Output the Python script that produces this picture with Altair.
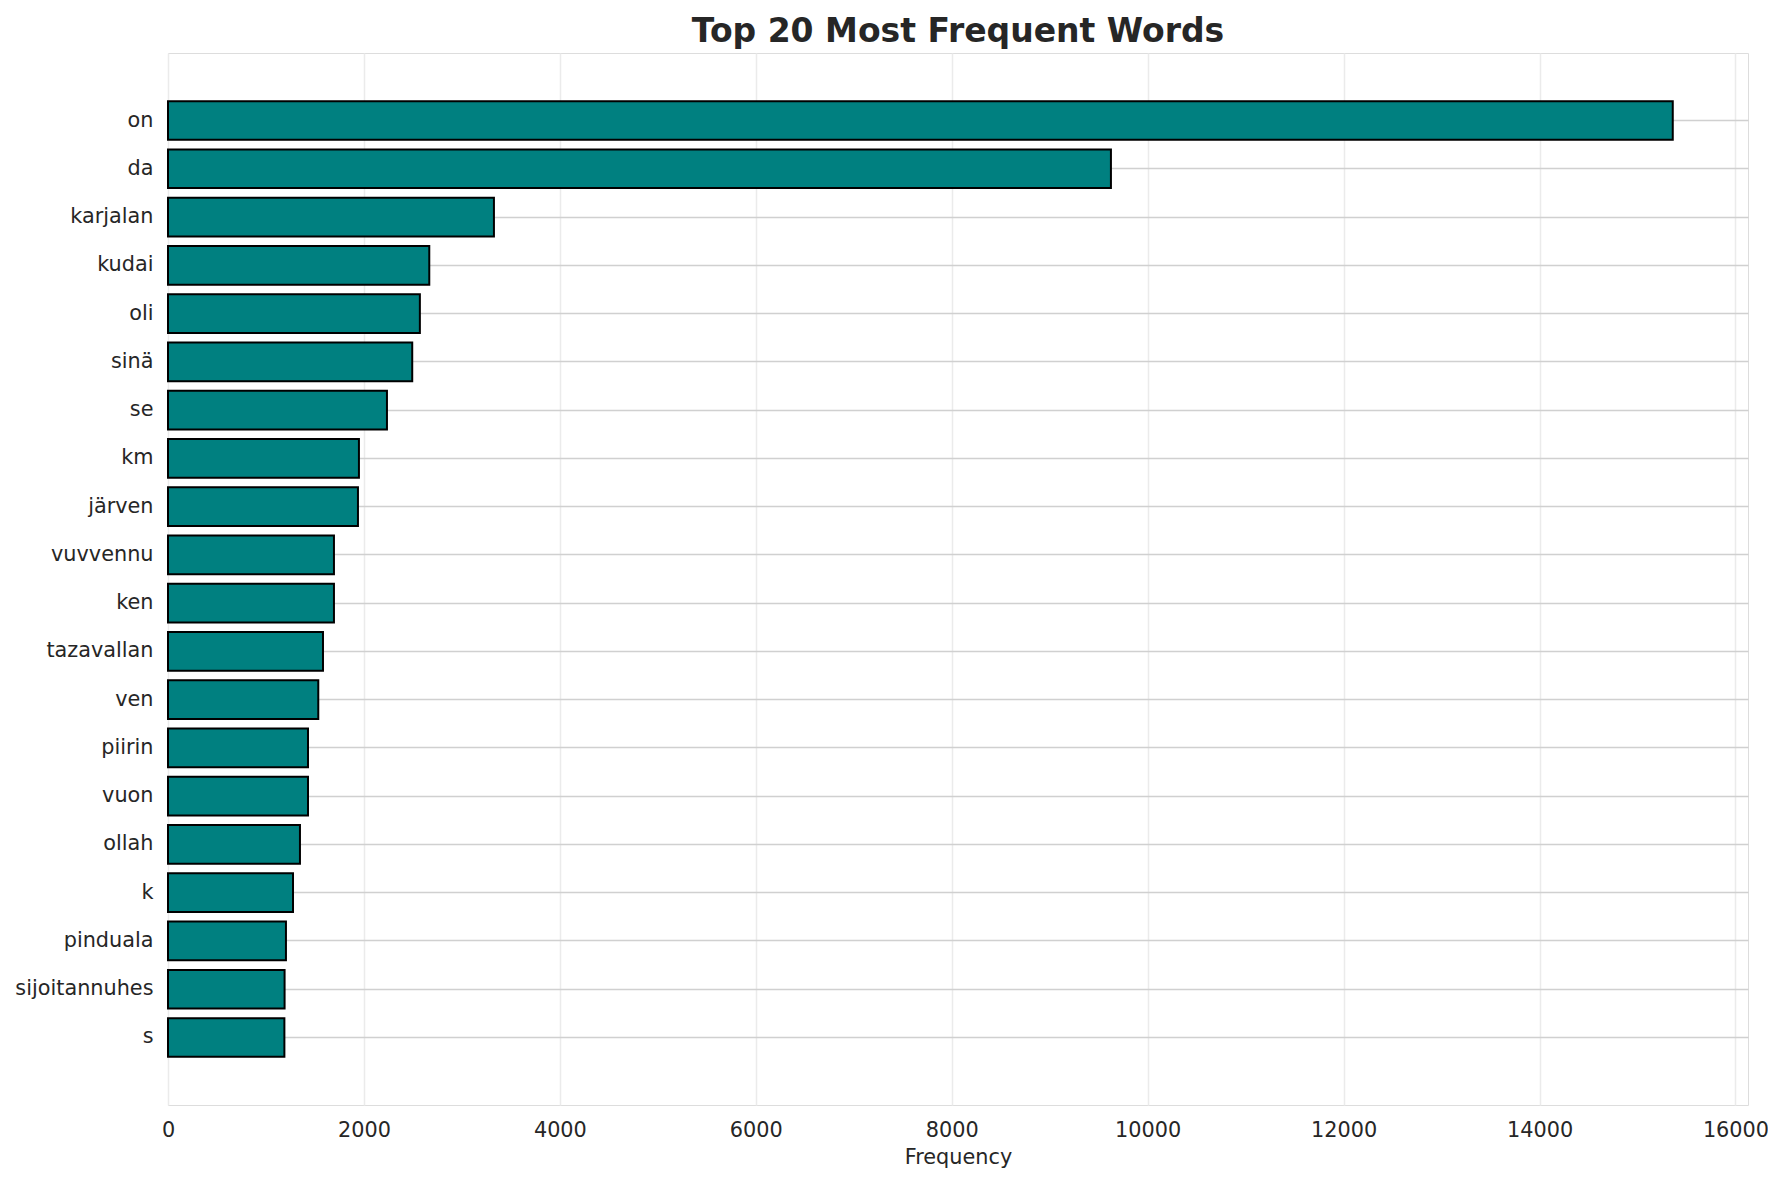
import altair as alt
import pandas as pd

words = ["on", "da", "karjalan", "kudai", "oli", "sinä", "se", "km", "järven",
         "vuvvennu", "ken", "tazavallan", "ven", "piirin", "vuon", "ollah", "k",
         "pinduala", "sijoitannuhes", "s"]
freqs = [15360, 9625, 3327, 2667, 2571, 2493, 2235, 1949, 1939,
         1694, 1694, 1582, 1534, 1429, 1429, 1347, 1276,
         1204, 1190, 1188]
x_ticks = [0, 2000, 4000, 6000, 8000, 10000, 12000, 14000, 16000]

df = pd.DataFrame({"word": words, "freq": freqs})

FONT = "DejaVu Sans"
TEXT = "#262626"

bars = alt.Chart(df).mark_bar(
    color="#008080", stroke="black", strokeWidth=2
).encode(
    x=alt.X("freq:Q", title="Frequency",
            scale=alt.Scale(domain=[0, 16128], nice=False, zero=True),
            axis=alt.Axis(values=x_ticks, format="d", grid=True,
                          gridColor="#ebebeb", gridWidth=1.5,
                          domain=False, ticks=False, labelPadding=15,
                          labelFontSize=20.8, labelFont=FONT, labelColor=TEXT,
                          titleFontSize=20.8, titleFont=FONT, titleColor=TEXT,
                          titleFontWeight="normal", titlePadding=8,
                          labelFlush=False)),
    y=alt.Y("word:N", title=None, sort=words,
            scale=alt.Scale(paddingInner=0.2, paddingOuter=1.0),
            axis=alt.Axis(grid=True, gridColor="#d0d0d0", gridWidth=1.5,
                          bandPosition=0.5,
                          domain=False, ticks=False, labelPadding=15,
                          labelFontSize=20.8, labelFont=FONT, labelColor=TEXT)),
)

chart = bars.properties(
    width=1580,
    height=1052,
    title=alt.TitleParams("Top 20 Most Frequent Words", font=FONT, fontSize=33,
                          fontWeight="bold", color=TEXT, anchor="middle",
                          baseline="alphabetic", offset=12, dy=34),
    autosize=alt.AutoSizeParams(type="none"),
    padding={"left": 160, "top": 45, "right": 20, "bottom": 74},
).configure_view(
    stroke="#cccccc", strokeWidth=1.7
).configure(background="white")

chart.save("out.html", embed_options={"renderer": "svg", "actions": False})
